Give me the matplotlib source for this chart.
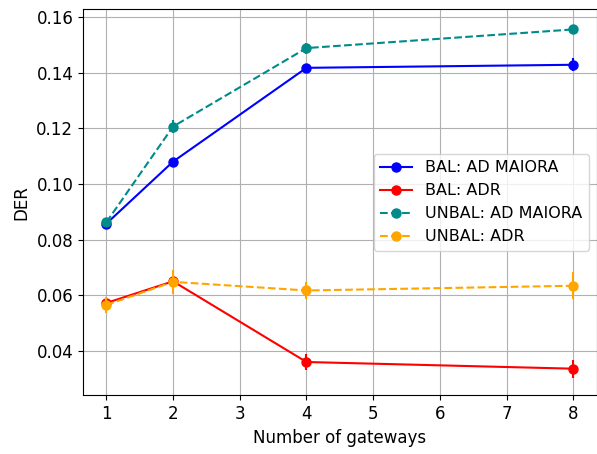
import matplotlib

matplotlib.use("Agg")

import matplotlib.pyplot as plt

gateways = [1, 2, 4, 8]

bal_maiora = [0.0857, 0.1080, 0.1417, 0.1428]
bal_maiora_err = [0.0008, 0.0010, 0.0010, 0.0024]

bal_adr = [0.0572, 0.0650, 0.0360, 0.0336]
bal_adr_err = [0.0012, 0.0012, 0.0027, 0.0033]

unbal_maiora = [0.0862, 0.1206, 0.1488, 0.1555]
unbal_maiora_err = [0.0010, 0.0024, 0.0020, 0.0010]

unbal_adr = [0.0565, 0.0648, 0.0617, 0.0634]
unbal_adr_err = [0.0030, 0.0042, 0.0030, 0.0048]

series = [
    (bal_maiora, bal_maiora_err, "blue", "-", "BAL: AD MAIORA"),
    (bal_adr, bal_adr_err, "red", "-", "BAL: ADR"),
    (unbal_maiora, unbal_maiora_err, "darkcyan", "--", "UNBAL: AD MAIORA"),
    (unbal_adr, unbal_adr_err, "orange", "--", "UNBAL: ADR"),
]

plt.rcParams["font.size"] = 12

fig, ax = plt.subplots(figsize=(5.97, 4.54), dpi=100)
fig.subplots_adjust(left=0.139, right=0.9995, top=0.98, bottom=0.129)

for values, errors, color, style, label in series:
    ax.plot(gateways, values, color=color, marker="o", markersize=6.5,
            linestyle=style, label=label)
    ax.errorbar(gateways, values, yerr=errors, fmt="none", ecolor=color)

ax.set_xlabel("Number of gateways")
ax.set_ylabel("DER")
ax.grid(True)
ax.legend(loc="center right", fontsize=11.5)

fig.savefig("out.png", dpi=100)
